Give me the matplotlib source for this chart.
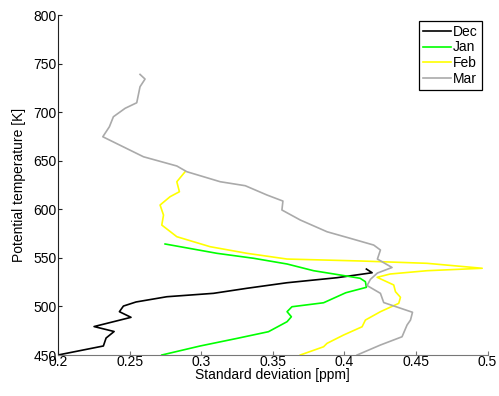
import matplotlib
matplotlib.use('Agg')
import matplotlib.pyplot as plt

# standard deviation [ppm] vs potential temperature [K]
dec_sd = [0.200, 0.2317, 0.2336, 0.2392, 0.2252, 0.2510, 0.2429, 0.2457, 0.2545,
          0.2760, 0.3086, 0.3320, 0.3599, 0.3949, 0.4194, 0.4154]
dec_th = [450, 459.3, 467.5, 474.2, 479.3, 488.8, 494.6, 500.4, 504.6,
          510.0, 513.5, 518.7, 524.4, 529.6, 534.7, 538.5]

jan_sd = [0.2748, 0.311, 0.3366, 0.360, 0.3785, 0.397, 0.411, 0.4147, 0.4154,
          0.401, 0.3855, 0.3634, 0.360, 0.363, 0.360, 0.347, 0.325, 0.2993, 0.2725]
jan_th = [564.3, 554.7, 549.6, 543.7, 536.8, 532.4, 529.0, 525.5, 519.7,
          514.1, 503.8, 499.7, 494.6, 489.4, 484.3, 474.0, 467.1, 459.3, 450]

feb_sd = [0.2888, 0.283, 0.2848, 0.2783, 0.2713, 0.2737, 0.2725, 0.283, 0.3063,
          0.332, 0.360, 0.4112, 0.4578, 0.4963, 0.4578, 0.432, 0.4229, 0.4345,
          0.4357, 0.4392, 0.438, 0.4252, 0.4147, 0.4124, 0.3995, 0.3879, 0.3855, 0.3692]
feb_th = [638.7, 628.4, 618.1, 613.0, 604.4, 594.1, 583.8, 571.8, 561.5,
          554.7, 548.8, 546.8, 544.4, 539.3, 536.8, 533.4, 530.0, 522.1,
          515.2, 509.4, 503.2, 494.6, 486.0, 479.1, 470.6, 462.0, 458.5, 450]

mar_sd = [0.2573, 0.2608, 0.2573, 0.255, 0.2469, 0.2387, 0.2359, 0.2313, 0.2597,
          0.283, 0.290, 0.3133, 0.3308, 0.346, 0.3571, 0.3564, 0.3692, 0.3879,
          0.4042, 0.4205, 0.4252, 0.4231, 0.4333, 0.4231, 0.4182, 0.4159, 0.4252,
          0.4275, 0.4476, 0.4462, 0.4438, 0.4403, 0.4252, 0.4089]
mar_th = [738.9, 734.1, 726.2, 709.7, 704.0, 695.3, 685.0, 674.7, 654.1,
          644.6, 638.7, 628.4, 624.3, 614.7, 608.5, 599.3, 589.0, 576.9,
          570.1, 563.2, 558.1, 548.8, 540.1, 534.4, 527.9, 521.5, 513.5,
          504.0, 494.0, 486.0, 480.9, 468.8, 460.3, 450]

xticks = [0.2, 0.25, 0.3, 0.35, 0.4, 0.45, 0.5]
xtick_labels = ['0.2', '0.25', '0.3', '0.35', '0.4', '0.45', '0.5']
yticks = [450, 500, 550, 600, 650, 700, 750, 800]

plt.rcParams['font.family'] = ['Liberation Sans', 'DejaVu Sans']

fig = plt.figure(figsize=(4.99, 3.96), dpi=100)
ax = fig.add_axes([0.1162, 0.1035, 0.8608, 0.8585])

lw = 1.2
ax.plot(dec_sd, dec_th, color='black', lw=lw, label='Dec')
ax.plot(jan_sd, jan_th, color='#00ff00', lw=lw, label='Jan')
ax.plot(feb_sd, feb_th, color='#ffff00', lw=lw, label='Feb')
ax.plot(mar_sd, mar_th, color='#aaaaaa', lw=lw, label='Mar')

ax.set_xlim(0.2, 0.5)
ax.set_ylim(450, 800)
ax.set_xticks(xticks)
ax.set_xticklabels(xtick_labels)
ax.set_yticks(yticks)
ax.tick_params(direction='in', length=3, labelsize=10, pad=1)
ax.tick_params(axis='x', colors='#777777', labelcolor='black', pad=0)
ax.tick_params(axis='y', colors='#222222', labelcolor='black')

ax.spines['top'].set_visible(False)
ax.spines['right'].set_visible(False)
ax.spines['bottom'].set_color('#777777')
ax.spines['left'].set_color('#222222')

ax.set_xlabel('Standard deviation [ppm]', fontsize=10, labelpad=-1)
ax.set_ylabel('Potential temperature [K]', fontsize=10, labelpad=5)

leg = ax.legend(loc='upper right', fontsize=10, fancybox=False, framealpha=1,
                edgecolor='black', borderpad=0.3, labelspacing=0.12,
                handlelength=2.0, handletextpad=0.15, borderaxespad=0.4)
leg.get_frame().set_linewidth(0.9)

fig.savefig('out.png', dpi=100)
